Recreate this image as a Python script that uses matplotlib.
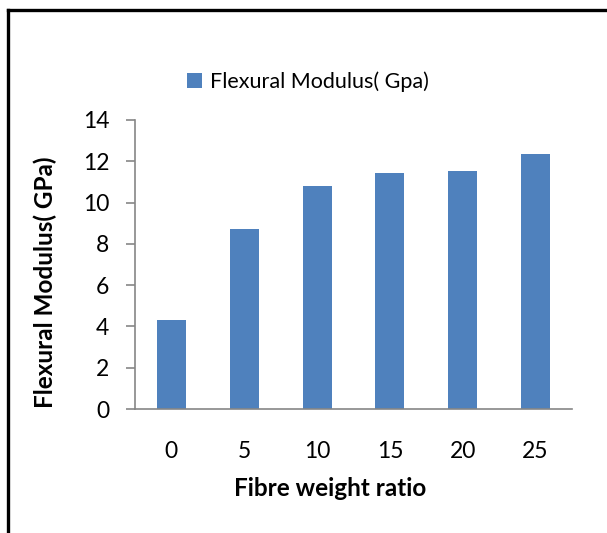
import matplotlib.pyplot as plt
from matplotlib.lines import Line2D

# data
categories = ["0", "5", "10", "15", "20", "25"]
modulus = [4.31, 8.72, 10.8, 11.43, 11.53, 12.35]
y_ticks = [0, 2, 4, 6, 8, 10, 12, 14]

W, H = 607, 533
plt.rcParams['font.family'] = ['Lato', 'DejaVu Sans']

fig = plt.figure(figsize=(W / 100, H / 100), dpi=100)

# outer frame (only left and top show in the crop)
fig.add_artist(Line2D([8 / W, 8 / W], [0, 1 - 10 / H], color='black', lw=2.4,
                      transform=fig.transFigure))
fig.add_artist(Line2D([8 / W, 1], [1 - 10 / H, 1 - 10 / H], color='black', lw=2.4,
                      transform=fig.transFigure))

ax = fig.add_axes([135 / W, (H - 409) / H, 437 / W, 289 / H])
x = range(len(categories))
ax.bar(x, modulus, width=0.4, color='#4F81BD', label='Flexural Modulus( Gpa)')

ax.set_xlim(-0.5, len(categories) - 0.5)
ax.set_ylim(0, 14)
ax.set_yticks(y_ticks)
ax.set_xticks(list(x))
ax.set_xticklabels(categories)

for s in ['top', 'right']:
    ax.spines[s].set_visible(False)
for s in ['left', 'bottom']:
    ax.spines[s].set_color('#868686')
    ax.spines[s].set_linewidth(1.2)

ax.tick_params(axis='y', length=6.5, width=1.2, color='#868686', pad=12,
               labelsize=16.5, labelcolor='black')
ax.tick_params(axis='x', length=0, pad=23, labelsize=16.5, labelcolor='black')

ax.set_xlabel('Fibre weight ratio', fontsize=17.5, fontweight='bold')
ax.xaxis.label.set_va('center')
ax.xaxis.set_label_coords((330 - 135) / 437, (409 - 488) / 289)
ax.set_ylabel('Flexural Modulus( GPa)', fontsize=17.5, fontweight='bold')
ax.yaxis.label.set_va('center')
ax.yaxis.set_label_coords((45 - 135) / 437, (409 - 282) / 289)

ax.legend(loc='center', bbox_to_anchor=(308 / W, 1 - 82 / H),
          bbox_transform=fig.transFigure, frameon=False, fontsize=15.5,
          handlelength=0.7, handleheight=0.7, handletextpad=0.4)

fig.savefig('out.png', dpi=100)
